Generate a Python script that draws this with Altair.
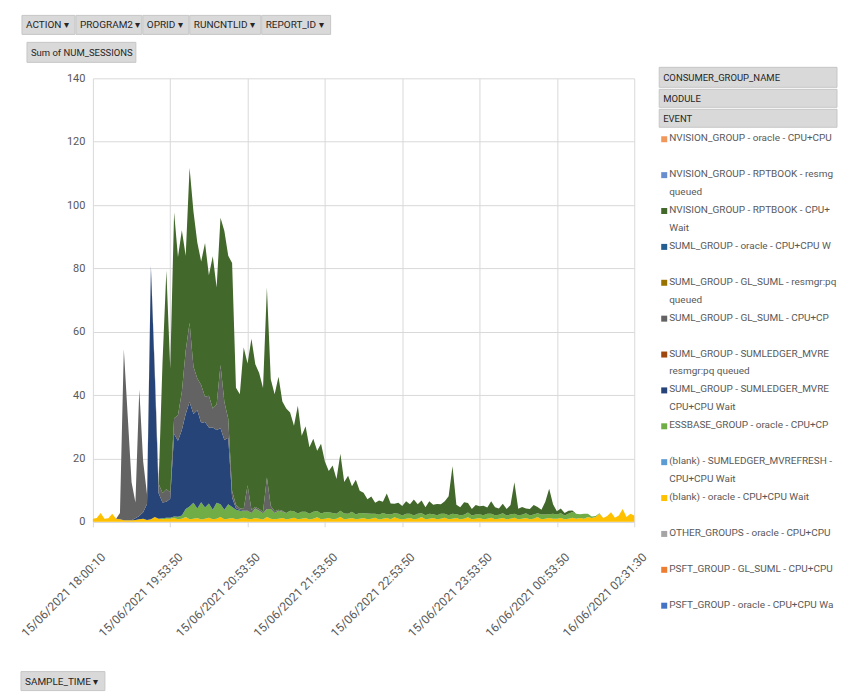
import altair as alt
import pandas as pd

FONT = "Roboto, 'Liberation Sans', sans-serif"

# ---------------- data ----------------
# category positions of the sampled SAMPLE_TIME values (every 5th category)
sample_index = list(range(0, 701, 5))

tick_positions = [0, 100, 200, 300, 400, 500, 600, 700]
tick_labels = ["15/06/2021 18:00:10", "15/06/2021 19:53:50", "15/06/2021 20:53:50",
               "15/06/2021 21:53:50", "15/06/2021 22:53:50", "15/06/2021 23:53:50",
               "16/06/2021 00:53:50", "16/06/2021 02:31:30"]

series_names = [
    "NVISION_GROUP - oracle - CPU+CPU Wait",
    "NVISION_GROUP - RPTBOOK - resmgr:pq queued",
    "NVISION_GROUP - RPTBOOK - CPU+CPU Wait",
    "SUML_GROUP - oracle - CPU+CPU Wait",
    "SUML_GROUP - GL_SUML - resmgr:pq queued",
    "SUML_GROUP - GL_SUML - CPU+CPU Wait",
    "SUML_GROUP - SUMLEDGER_MVREFRESH - resmgr:pq queued",
    "SUML_GROUP - SUMLEDGER_MVREFRESH - CPU+CPU Wait",
    "ESSBASE_GROUP - oracle - CPU+CPU Wait",
    "(blank) - SUMLEDGER_MVREFRESH - CPU+CPU Wait",
    "(blank) - oracle - CPU+CPU Wait",
    "OTHER_GROUPS - oracle - CPU+CPU Wait",
    "PSFT_GROUP - GL_SUML - CPU+CPU Wait",
    "PSFT_GROUP - oracle - CPU+CPU Wait",
]
legend_labels = [
    "NVISION_GROUP - oracle - CPU+CPU Wait",
    "NVISION_GROUP - RPTBOOK - resmgr:pq\nqueued",
    "NVISION_GROUP - RPTBOOK - CPU+CPU\nWait",
    "SUML_GROUP - oracle - CPU+CPU Wait",
    "SUML_GROUP - GL_SUML - resmgr:pq\nqueued",
    "SUML_GROUP - GL_SUML - CPU+CPU Wait",
    "SUML_GROUP - SUMLEDGER_MVREFRESH -\nresmgr:pq queued",
    "SUML_GROUP - SUMLEDGER_MVREFRESH -\nCPU+CPU Wait",
    "ESSBASE_GROUP - oracle - CPU+CPU Wait",
    "(blank) - SUMLEDGER_MVREFRESH -\nCPU+CPU Wait",
    "(blank) - oracle - CPU+CPU Wait",
    "OTHER_GROUPS - oracle - CPU+CPU Wait",
    "PSFT_GROUP - GL_SUML - CPU+CPU Wait",
    "PSFT_GROUP - oracle - CPU+CPU Wait",
]
series_colors = ["#F1975A", "#698ED0", "#43682B", "#255E91", "#997300", "#636363", "#9E480E",
                 "#264478", "#70AD47", "#5B9BD5", "#FFC000", "#A5A5A5", "#ED7D31", "#4472C4"]

blank_oracle = [
    1, 1.2, 2.8, 1, 1.1, 2.5, 1, 0.8, 0.5, 0.5,
    0.5, 0.6, 0.8, 1, 0.6, 0.8, 1.5, 1, 0.8, 1,
    1, 1.2, 0.8, 1, 1.5, 0.8, 1, 1.2, 0.7, 1,
    1.3, 0.8, 1, 1.5, 0.8, 1, 1.2, 0.8, 1, 1.3,
    1, 0.8, 1.2, 1, 0.7, 1.5, 1, 0.8, 1, 1.2,
    0.8, 1, 1.3, 0.8, 1, 1.2, 0.7, 1, 1.4, 0.8,
    1, 1.2, 0.8, 1, 1.5, 0.8, 1, 1.2, 0.8, 1,
    1.2, 0.8, 1, 1.3, 0.7, 1, 1.2, 0.8, 1.4, 1,
    0.8, 1, 1.2, 0.8, 1, 1.5, 0.8, 1, 1.2, 0.8,
    1, 1.3, 0.8, 1, 1.2, 0.8, 1, 1.4, 0.8, 1,
    1.2, 0.8, 1, 1.3, 0.8, 1, 1.2, 0.8, 1, 1.3,
    0.8, 1, 1.2, 0.8, 1, 1.5, 0.8, 1, 1.2, 1,
    1, 1.2, 0.8, 1, 1.3, 1, 1.2, 1, 1.5, 1.2,
    1.5, 2.5, 1.2, 1.8, 3, 1.3, 2, 4, 1.5, 2.5,
    2]
essbase_oracle = [
    0, 0, 0, 0, 0, 0, 0, 0, 0, 0,
    0, 0, 0, 0, 0, 0, 0, 0, 0.3, 0.3,
    0.3, 0.5, 0.8, 1, 2.5, 4, 5, 3, 5.5, 3.5,
    4.5, 3, 5, 4, 3, 4.5, 3.5, 3, 2.5, 2,
    2.5, 2, 3, 2.5, 2, 2.5, 3, 2, 2.5, 2,
    2, 2.5, 2, 1.8, 2.2, 2, 1.8, 2.2, 2, 1.8,
    2, 1.8, 2, 1.5, 2, 1.8, 1.5, 2, 1.5, 1.8,
    1.5, 1.8, 1.5, 1.2, 1.5, 1.8, 1.2, 1.5, 1.3, 1.5,
    1.2, 1.5, 1.3, 1.2, 1.5, 1.2, 1.3, 1.5, 1.2, 1.3,
    1.5, 1.2, 1.3, 1.5, 1.2, 1.3, 1.2, 1.5, 1.2, 1.3,
    1.2, 1.3, 1.5, 1.2, 1.3, 1.2, 1.5, 1.2, 1.3, 1.2,
    1.3, 1.2, 1.5, 1.2, 1.3, 1.2, 1.5, 1.3, 1.2, 1.5,
    1.3, 1.5, 1.2, 1.5, 1.8, 1.5, 1.2, 1.5, 1, 0.5,
    0.3, 0.2, 0, 0, 0, 0, 0, 0, 0, 0,
    0]
sumledger_cpu = [
    0, 0, 0, 0, 0, 0, 0, 0, 0, 0,
    0, 0.5, 1, 2, 5, 80, 45, 8, 5, 5,
    6, 26, 24, 27, 30, 33, 28, 31, 25, 27,
    24, 26, 23, 24, 22, 21, 3, 0.5, 0.3, 0.2,
    0, 0, 0, 0, 0, 0, 0, 0, 0, 0,
    0, 0, 0, 0, 0, 0, 0, 0, 0, 0,
    0, 0, 0, 0, 0, 0, 0, 0, 0, 0,
    0, 0, 0, 0, 0, 0, 0, 0, 0, 0,
    0, 0, 0, 0, 0, 0, 0, 0, 0, 0,
    0, 0, 0, 0, 0, 0, 0, 0, 0, 0,
    0, 0, 0, 0, 0, 0, 0, 0, 0, 0,
    0, 0, 0, 0, 0, 0, 0, 0, 0, 0,
    0, 0, 0, 0, 0, 0, 0, 0, 0, 0,
    0, 0, 0, 0, 0, 0, 0, 0, 0, 0,
    0]
gl_suml_cpu = [
    0, 0, 0, 0, 0, 0, 0, 2, 54, 33,
    12, 5, 40, 16, 3, 0, 2, 3, 3, 4,
    2, 5, 8, 12, 20, 25, 15, 10, 12, 8,
    10, 6, 8, 20, 12, 6, 2, 1, 0.5, 0.5,
    8, 1, 0.5, 0.5, 0.5, 10, 1, 0.5, 0.3, 0.3,
    0, 0, 0, 0, 0, 0, 0, 0, 0, 0,
    0, 0, 0, 0, 0, 0, 0, 0, 0, 0,
    0, 0, 0, 0, 0, 0, 0, 0, 0, 0,
    0, 0, 0, 0, 0, 0, 0, 0, 0, 0,
    0, 0, 0, 0, 0, 0, 0, 0, 0, 0,
    0, 0, 0, 0, 0, 0, 0, 0, 0, 0,
    0, 0, 0, 0, 0, 0, 0, 0, 0, 0,
    0, 0, 0, 0, 0, 0, 0, 0, 0, 0,
    0, 0, 0, 0, 0, 0, 0, 0, 0, 0,
    0]
rptbook_cpu = [
    0, 0, 0, 0, 0, 0, 0, 0, 0, 0,
    0, 0, 0, 0, 0, 0, 0, 0, 41, 69,
    39, 65, 50, 51, 30, 49, 49, 43, 39, 48.5,
    38, 48, 37, 46.5, 54, 51.5, 72, 37, 36, 51,
    38.5, 54, 45, 43, 39, 60, 40, 37, 42, 34.5,
    33, 31, 27, 34, 24, 27, 21, 23, 19, 22,
    16, 13, 15, 11, 18, 10, 12, 8, 11, 7,
    6.5, 4.5, 5.5, 3.5, 4.5, 3.5, 6.5, 3.5, 3, 3.5,
    3, 4, 3, 5, 3, 4, 2.5, 4, 3, 3.5,
    3, 4, 6, 15, 3, 2.5, 4, 3, 2, 3,
    2.5, 3, 2, 4, 2.5, 2, 3, 2, 3, 10,
    2, 2.5, 1.5, 2, 3, 2, 1.5, 4, 8, 3,
    1, 1.5, 0.8, 1, 0.5, 0, 0, 0, 0, 0,
    0, 0, 0, 0, 0, 0, 0, 0, 0, 0,
    0]

stack_series = [
    ("(blank) - oracle - CPU+CPU Wait", blank_oracle),
    ("ESSBASE_GROUP - oracle - CPU+CPU Wait", essbase_oracle),
    ("SUML_GROUP - SUMLEDGER_MVREFRESH - CPU+CPU Wait", sumledger_cpu),
    ("SUML_GROUP - GL_SUML - CPU+CPU Wait", gl_suml_cpu),
    ("NVISION_GROUP - RPTBOOK - CPU+CPU Wait", rptbook_cpu),
]

rows = []
for name, vals in stack_series:
    pos = len(series_names) - 1 - series_names.index(name)
    for i, v in zip(sample_index, vals):
        rows.append({"idx": i, "series": name, "value": v, "stack": pos})
df = pd.DataFrame(rows)

leg_df = pd.DataFrame({"series": series_names, "label": legend_labels,
                       "rank": list(range(len(series_names)))})

# ---------------- chart ----------------
label_expr = "[" + ",".join("'" + t + "'" for t in tick_labels) + "][round(datum.value / 100)]"
color_scale = alt.Scale(domain=series_names, range=series_colors)

W, H = 542, 444

area = alt.Chart(df).mark_area(interpolate="linear", opacity=1).encode(
    x=alt.X("idx:Q", scale=alt.Scale(domain=[0, 700], nice=False, zero=False),
            axis=alt.Axis(values=tick_positions, labelExpr=label_expr, labelAngle=-45,
                          labelAlign="right", labelBaseline="middle", labelPadding=28,
                          labelOffset=10, grid=True, gridColor="#d9d9d9", domainColor="#d9d9d9",
                          tickColor="#d9d9d9", tickSize=5, labelColor="#595959",
                          labelFontSize=12, labelFont=FONT, title=None, labelOverlap=False)),
    y=alt.Y("value:Q", stack="zero", scale=alt.Scale(domain=[0, 140], nice=False),
            axis=alt.Axis(values=[0, 20, 40, 60, 80, 100, 120, 140], grid=True, gridColor="#d9d9d9",
                          domain=False, ticks=False, labelPadding=8, labelColor="#595959",
                          labelFontSize=11, labelFont=FONT, title=None)),
    color=alt.Color("series:N", scale=color_scale, legend=None),
    order=alt.Order("stack:Q", sort="ascending"),
)

layers = [area]


def button(label, x0, x1, y0, y1, size=10):
    base = alt.Chart(pd.DataFrame({"t": [label]}))
    rect = base.mark_rect(fill="#d9d9d9", stroke="#c6c6c6", strokeWidth=1).encode(
        x=alt.value(x0), x2=alt.value(x1), y=alt.value(y0), y2=alt.value(y1))
    text = base.mark_text(align="left", baseline="middle", font=FONT, fontSize=size,
                          color="#262626").encode(
        x=alt.value(x0 + 4), y=alt.value((y0 + y1) / 2 + 0.5), text="t:N")
    return [rect, text]


# pivot field buttons (relative to plot origin)
layers += button("ACTION  \u25be", -71, -18, -63, -44)
layers += button("PROGRAM2  \u25be", -17, 49, -63, -44)
layers += button("OPRID  \u25be", 50, 96, -63, -44)
layers += button("RUNCNTLID  \u25be", 97, 168, -63, -44)
layers += button("REPORT_ID  \u25be", 169, 238, -63, -44)
layers += button("Sum of NUM_SESSIONS", -66, 43, -36, -16, size=9.5)
layers += button("SAMPLE_TIME  \u25be", -72, 12, 594, 613)
layers += button("CONSUMER_GROUP_NAME", 567, 745, -11, 9, size=9.5)
layers += button("MODULE", 567, 745, 11, 29, size=9.5)
layers += button("EVENT", 567, 745, 31, 49, size=9.5)

leg_y = alt.Y("rank:O", scale=alt.Scale(type="point", range=[61, 528], padding=0), axis=None)
leg_sq = alt.Chart(leg_df).mark_square(size=36, opacity=1).encode(
    x=alt.value(572), y=leg_y, color=alt.Color("series:N", scale=color_scale, legend=None))
leg_txt = alt.Chart(leg_df).mark_text(align="left", baseline="top", dy=-6, lineBreak="\n",
                                      lineHeight=18, limit=168, ellipsis=" ", font=FONT,
                                      fontSize=10, color="#595959").encode(
    x=alt.value(577), y=leg_y, text="label:N")
layers += [leg_sq, leg_txt]

chart = alt.layer(*layers).resolve_scale(y="independent").properties(
    width=W, height=H, background="white",
    padding={"left": 10, "top": 6, "right": 0, "bottom": 0},
).configure_view(stroke=None)

chart.save("out.html", embed_options={"renderer": "svg", "actions": False})
